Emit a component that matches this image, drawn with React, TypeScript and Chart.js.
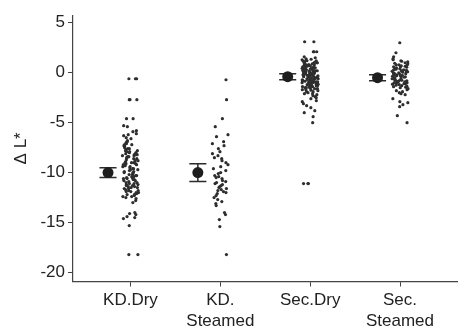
import React, { useEffect, useRef } from "react";
import { Chart, registerables } from "chart.js";

Chart.register(...registerables);

const categories: string[][] = [["KD.Dry"], ["KD.", "Steamed"], ["Sec.Dry"], ["Sec.", "Steamed"]];
const yTicks: number[] = [-20, -15, -10, -5, 0, 5];
const yTitle = "\u0394 L*";

const means: number[] = [-10.0, -10.0, -0.4, -0.5];
const errs: number[] = [0.5, 0.9, 0.3, 0.3];

const kdDry: number[] = [
  -0.6, -0.6, -0.6, -2.7, -2.7, -2.7, -4.6, -4.6,
  -5.3, -5.4, -5.8, -5.9, -6.1, -6.2, -6.3, -6.5, -6.6, -6.8, -6.9, -7.0, -7.1, -7.2, -7.3, -7.4,
  -7.5, -7.6, -7.7, -7.8, -7.8, -7.9, -8.0, -8.0, -8.1, -8.1, -8.2, -8.3, -8.4, -8.5, -8.5, -8.6,
  -8.7, -8.8, -8.9, -9.0, -9.0, -9.1, -9.2, -9.3, -9.4, -9.5, -9.6, -9.7, -9.8, -9.9, -10.0, -10.0,
  -10.1, -10.2, -10.3, -10.4, -10.5, -10.5, -10.6, -10.7, -10.8, -10.9, -11.0, -11.0, -11.1, -11.2,
  -11.3, -11.4, -11.5, -11.5, -11.6, -11.7, -11.8, -11.9, -12.0, -12.1, -12.2, -12.3, -12.4, -12.5,
  -12.6, -12.8, -13.0, -7.6, -8.3, -8.8, -9.4, -9.9, -10.3, -10.8, -11.3, -11.8, -12.2, -7.9, -8.6,
  -9.2, -9.7, -10.2, -10.6, -11.1, -11.6, -12.0, -8.2, -9.0, -9.6, -10.4, -11.2, -11.9,
  -7.2, -8.4, -9.1, -10.7, -11.4, -12.4, -14.0, -14.1, -14.2, -14.4, -14.5, -14.6, -15.3, -18.2, -18.2,
];

const kdSteamed: number[] = [
  -0.7, -2.7, -4.6, -5.4, -6.2, -6.4, -6.9, -7.1, -7.3, -7.6, -7.9, -8.1, -8.3, -8.5, -8.8,
  -9.0, -9.2, -9.6, -9.8, -10.0, -10.1, -10.3, -10.4, -10.6, -10.8, -10.9, -11.0, -11.2, -11.3,
  -11.4, -11.5, -11.6, -11.8, -11.9, -12.1, -12.3, -12.5, -12.7, -12.9, -13.1, -13.3, -10.5,
  -11.1, -11.7, -9.4, -8.6, -12.0,
  -14.0, -14.2, -14.7, -15.4, -18.2,
];

const secDry: number[] = [
  3.1, 3.1, 2.1, 2.1, 2.1,
  1.6, 1.5, 1.4, 1.3, 1.2, 1.1, 1.0, 1.0, 0.9, 0.9, 0.8, 0.8, 0.7, 0.7, 0.6, 0.6, 0.5, 0.5, 0.5,
  0.4, 0.4, 0.4, 0.3, 0.3, 0.3, 0.2, 0.2, 0.2, 0.1, 0.1, 0.1, 0.0, 0.0, 0.0, 0.0, -0.1, -0.1, -0.1,
  -0.2, -0.2, -0.2, -0.3, -0.3, -0.3, -0.4, -0.4, -0.4, -0.5, -0.5, -0.5, -0.6, -0.6, -0.6, -0.7,
  -0.7, -0.7, -0.8, -0.8, -0.8, -0.9, -0.9, -0.9, -1.0, -1.0, -1.0, -1.1, -1.1, -1.2, -1.2, -1.3,
  -1.3, -1.4, -1.4, -1.5, -1.5, -1.6, -1.6, -1.7, -1.8, -1.9, -2.0, -2.1, -2.2, -2.3, -2.4, -2.5,
  -2.6, -2.8, -2.9,
  1.2, 0.9, 0.7, 0.5, 0.3, 0.1, -0.1, -0.3, -0.5, -0.7, -0.9, -1.1, -0.2, 0.0, 0.2, 0.4, 0.6, 0.8,
  1.0, -0.4, -0.6, -0.8, -1.0, -1.2, -0.05, 0.15, 0.35, 0.55, -0.25, -0.45, -0.65, -0.85, -1.05,
  -1.25, -1.45, 0.75, 0.95, 1.15, -0.15, -0.35, -0.55, -0.75, 1.35, -1.7, -1.9, -2.1, 0.25, 0.45,
  1.25, 1.05, 0.85, 0.65, 0.05, -0.95, -1.15, -1.35, -1.55, -1.75,
  -3.1, -3.3, -3.5, -3.8, -4.0, -4.4, -5.0,
  -11.1, -11.1, -11.1,
];

const secSteamed: number[] = [
  3.0, 2.0, 1.6,
  1.4, 1.3, 1.2, 1.1, 1.0, 0.9, 0.8, 0.8, 0.7, 0.6, 0.6, 0.5, 0.4, 0.4, 0.3, 0.3, 0.2, 0.2, 0.1,
  0.1, 0.0, 0.0, -0.1, -0.1, -0.2, -0.2, -0.3, -0.3, -0.4, -0.4, -0.5, -0.5, -0.6, -0.6, -0.7,
  -0.7, -0.8, -0.8, -0.9, -0.9, -1.0, -1.0, -1.1, -1.1, -1.2, -1.3, -1.4, -1.5, -1.6, -1.7, -1.8,
  -1.9, -2.0, -2.1, -2.2,
  1.15, 0.95, 0.75, 0.55, 0.35, 0.15, -0.05, -0.25, -0.45, -0.65, -0.85, -1.05, -1.25, -1.45,
  0.65, 0.25, -0.15, -0.55, -0.95, -1.35, 0.45, 0.05, -0.35, -0.75, -1.15,
  -2.6, -2.9, -3.0, -3.2, -3.4, -4.3, -5.0,
];

const groups: number[][] = [kdDry, kdSteamed, secDry, secSteamed];

const JITTER = 0.18;
const MEAN_OFFSET = -0.25;

function jitter(i: number, g: number): number {
  const s = Math.sin(i * 12.9898 + g * 78.233 + 1.7) * 43758.5453;
  const h = s - Math.floor(s);
  return (h - 0.5) * JITTER;
}

const errorBarPlugin = {
  id: "errorBars",
  beforeDatasetsDraw(chart: any) {
    const { ctx, scales } = chart;
    const xs = scales.x;
    const ys = scales.y;
    ctx.save();
    ctx.strokeStyle = "#2b2b2b";
    ctx.lineWidth = 1.5;
    means.forEach((m, i) => {
      const px = xs.getPixelForValue(i + MEAN_OFFSET);
      const top = ys.getPixelForValue(m + errs[i]);
      const bot = ys.getPixelForValue(m - errs[i]);
      const cw = xs.getPixelForValue(0.095) - xs.getPixelForValue(0);
      ctx.beginPath();
      ctx.moveTo(px, top);
      ctx.lineTo(px, bot);
      ctx.moveTo(px - cw, top);
      ctx.lineTo(px + cw, top);
      ctx.moveTo(px - cw, bot);
      ctx.lineTo(px + cw, bot);
      ctx.stroke();
    });
    ctx.restore();
  },
};

export default function App() {
  const ref = useRef<HTMLCanvasElement | null>(null);
  useEffect(() => {
    if (!ref.current) return;
    const dotData = groups.flatMap((vals, g) =>
      vals.map((v, i) => ({ x: g + jitter(i, g), y: v }))
    );
    const meanData = means.map((m, i) => ({ x: i + MEAN_OFFSET, y: m }));
    const family = "'Liberation Sans', Arial, sans-serif";
    const chart = new Chart(ref.current, {
      type: "scatter",
      data: {
        datasets: [
          {
            data: dotData,
            pointRadius: 1.6,
            pointBackgroundColor: "#2e2e2e",
            pointBorderWidth: 0,
            pointHoverRadius: 1.6,
          },
          {
            data: meanData,
            pointRadius: 5.5,
            pointBackgroundColor: "#1e1e1e",
            pointBorderWidth: 0,
            pointHoverRadius: 5.5,
          },
        ],
      },
      options: {
        animation: false,
        responsive: true,
        maintainAspectRatio: false,
        layout: { padding: { top: 6, right: 0, bottom: 0, left: 11 } },
        plugins: { legend: { display: false }, tooltip: { enabled: false } },
        scales: {
          x: {
            type: "linear",
            min: -0.64,
            max: 3.64,
            afterBuildTicks: (axis: any) => {
              axis.ticks = categories.map((_, i) => ({ value: i }));
            },
            ticks: {
              color: "#222",
              font: { family, size: 17, lineHeight: 1.25 },
              padding: 3,
              maxRotation: 0,
              autoSkip: false,
              callback: (v: any) => categories[Number(v)] ?? "",
            },
            grid: { drawOnChartArea: false, drawTicks: true, tickLength: 5, color: "#444", lineWidth: 1 },
            border: { display: true, color: "#444", width: 1.2 },
          },
          y: {
            type: "linear",
            min: -20.9,
            max: 5.76,
            afterBuildTicks: (axis: any) => {
              axis.ticks = yTicks.map((v) => ({ value: v }));
            },
            ticks: { color: "#222", font: { family, size: 17 }, padding: 3 },
            grid: { drawOnChartArea: false, drawTicks: true, tickLength: 5, color: "#444", lineWidth: 1 },
            border: { display: true, color: "#444", width: 1.2 },
            title: { display: true, text: yTitle, color: "#222", font: { family, size: 17 }, padding: { top: 0, bottom: 6 } },
          },
        },
      },
      plugins: [errorBarPlugin],
    });
    return () => chart.destroy();
  }, []);
  return (
    <div style={{ position: "absolute", left: 0, top: 0, width: 463, height: 330, overflow: "hidden", background: "#fff" }}>
      <div style={{ position: "absolute", left: 0, top: 2, width: 463, height: 333 }}>
        <canvas ref={ref} />
      </div>
    </div>
  );
}
